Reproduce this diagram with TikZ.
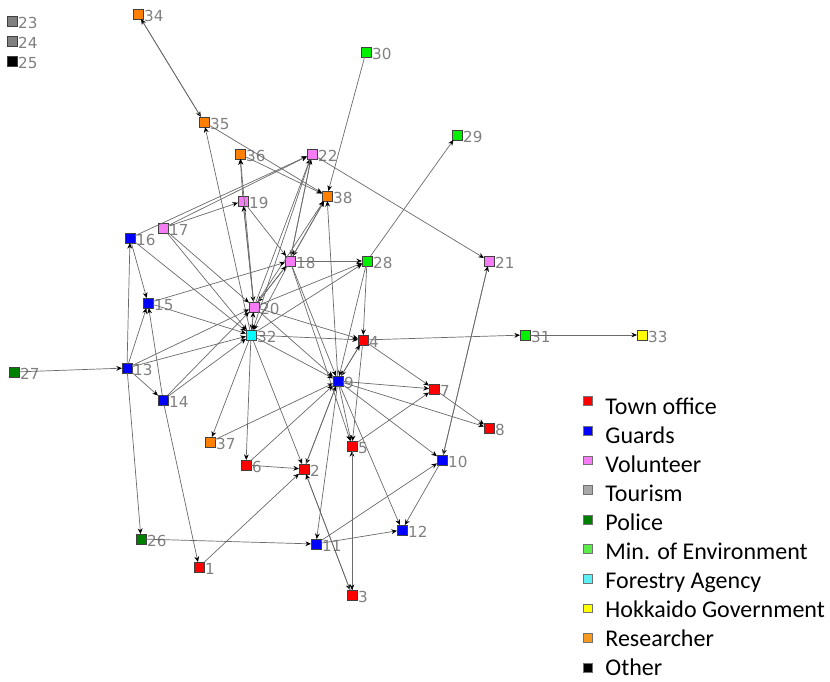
\documentclass[tikz,border=0pt]{standalone}
\usepackage{fontspec}
\setmainfont{Carlito}
\newfontfamily\tagfont{DejaVu Sans}
\usetikzlibrary{arrows.meta}

\definecolor{townred}{HTML}{FF0000}
\definecolor{guardblue}{HTML}{0000FF}
\definecolor{volpink}{HTML}{F57CF5}
\definecolor{tourgray}{HTML}{808080}
\definecolor{legtour}{HTML}{A8A8A8}
\definecolor{policegreen}{HTML}{008000}
\definecolor{envgreen}{HTML}{00F000}
\definecolor{legenv}{HTML}{5CEB4A}
\definecolor{forestcyan}{HTML}{00FFFF}
\definecolor{legforest}{HTML}{5CF0F5}
\definecolor{hokkyellow}{HTML}{FFFF00}
\definecolor{resorange}{HTML}{FF8000}
\definecolor{legres}{HTML}{F59A1E}
\definecolor{tiegray}{HTML}{6A6A6A}

\begin{document}
\begin{tikzpicture}[x=0.5pt, y=-0.5pt]
            \tikzset{
                actor/.style={draw=black!75, line width=0.3pt, minimum size=5pt, inner sep=0pt, outer sep=0pt},
                tag/.style={text=tourgray, font=\tagfont\fontsize{7.6}{8}\selectfont, inner sep=0.4pt, yshift=-1pt},
                tie/.style={draw=tiegray, line width=0.35pt, -{Stealth[length=2.8pt, width=2.4pt, color=black]}},
                town/.style={actor, fill=townred},
                guard/.style={actor, fill=guardblue},
                vol/.style={actor, fill=volpink},
                tour/.style={actor, fill=tourgray},
                police/.style={actor, fill=policegreen},
                env/.style={actor, fill=envgreen},
                forest/.style={actor, fill=forestcyan},
                hokk/.style={actor, fill=hokkyellow},
                res/.style={actor, fill=resorange},
                other/.style={actor, fill=black},
                keybox/.style={draw=black!55, line width=0.3pt, minimum size=4.4pt, inner sep=0pt},
                keytext/.style={font=\fontsize{12}{14}\selectfont, anchor=base west, inner sep=0pt}
            }
            \useasboundingbox (0,0) rectangle (830,681);

            % actors
            \node[town, label={[tag]right:1}] (n1) at (199,567) {};
            \node[town, label={[tag]right:2}] (n2) at (304,469) {};
            \node[town, label={[tag]right:3}] (n3) at (352,595) {};
            \node[town, label={[tag]right:4}] (n4) at (363,340) {};
            \node[town, label={[tag]right:5}] (n5) at (352,446) {};
            \node[town, label={[tag]right:6}] (n6) at (246,465) {};
            \node[town, label={[tag]right:7}] (n7) at (434,389) {};
            \node[town, label={[tag]right:8}] (n8) at (489,428) {};
            \node[guard, label={[tag]right:9}] (n9) at (338,381) {};
            \node[guard, label={[tag]right:10}] (n10) at (442,460) {};
            \node[guard, label={[tag]right:11}] (n11) at (316,544) {};
            \node[guard, label={[tag]right:12}] (n12) at (402,530) {};
            \node[guard, label={[tag]right:13}] (n13) at (127,368) {};
            \node[guard, label={[tag]right:14}] (n14) at (163,400) {};
            \node[guard, label={[tag]right:15}] (n15) at (148,303) {};
            \node[guard, label={[tag]right:16}] (n16) at (130,238) {};
            \node[vol, label={[tag]right:17}] (n17) at (163,228) {};
            \node[vol, label={[tag]right:18}] (n18) at (290,261) {};
            \node[vol, label={[tag]right:19}] (n19) at (243,201) {};
            \node[vol, label={[tag]right:20}] (n20) at (254,307) {};
            \node[vol, label={[tag]right:21}] (n21) at (489,261) {};
            \node[vol, label={[tag]right:22}] (n22) at (312,154) {};
            \node[tour, label={[tag]right:23}] (n23) at (12,21) {};
            \node[tour, label={[tag]right:24}] (n24) at (12,41) {};
            \node[other, label={[tag]right:25}] (n25) at (12,61) {};
            \node[police, label={[tag]right:26}] (n26) at (141,539) {};
            \node[police, label={[tag]right:27}] (n27) at (14,372) {};
            \node[env, label={[tag]right:28}] (n28) at (367,261) {};
            \node[env, label={[tag]right:29}] (n29) at (457,135) {};
            \node[env, label={[tag]right:30}] (n30) at (366,52) {};
            \node[env, label={[tag]right:31}] (n31) at (525,335) {};
            \node[forest, label={[tag]right:32}] (n32) at (251,335) {};
            \node[hokk, label={[tag]right:33}] (n33) at (642,335) {};
            \node[res, label={[tag]right:34}] (n34) at (138,14) {};
            \node[res, label={[tag]right:35}] (n35) at (204,122) {};
            \node[res, label={[tag]right:36}] (n36) at (240,154) {};
            \node[res, label={[tag]right:37}] (n37) at (210,442) {};
            \node[res, label={[tag]right:38}] (n38) at (327,196) {};

            % ties
            \foreach \a/\b in {34/35, 35/34, 32/35, 35/38, 36/38, 19/36, 20/36,
                               17/19, 17/22, 16/22, 19/20, 20/19, 19/18, 18/20, 20/18,
                               22/18, 18/22, 38/18, 18/38, 20/22, 20/38, 22/21, 30/38, 9/38,
                               18/28, 28/29, 32/28, 20/28, 15/18, 16/32, 17/20, 17/32,
                               15/32, 13/20, 13/32, 14/32, 14/20, 13/16, 16/15, 13/15,
                               14/15, 13/14, 27/13, 13/26, 26/11, 14/1, 1/2, 6/2, 32/6,
                               32/37, 37/9, 6/9, 32/2, 9/2, 2/9, 2/3, 3/2, 3/5, 5/3, 18/5,
                               9/5, 4/5, 5/7, 9/7, 4/7, 9/8, 7/8, 9/10, 10/12, 11/10,
                               11/12, 9/11, 9/12, 20/32, 32/20, 4/9, 9/4, 32/4, 20/4,
                               28/4, 28/9, 18/9, 20/9, 32/9, 18/32, 22/32, 21/10, 10/21,
                               4/31, 31/33}
                \draw[tie] (n\a) -- (n\b);

            % key
            \foreach \c/\t [count=\i from 0] in {townred/Town office, guardblue/Guards,
                    volpink/Volunteer, legtour/Tourism, policegreen/Police,
                    legenv/Min. of Environment, legforest/Forestry Agency,
                    hokkyellow/Hokkaido Government, legres/Researcher, black/Other} {
                \node[keybox, fill=\c] (key\i) at (588,{401+29.6*\i}) {};
                \node[keytext] (keytext\i) at (605,{414+29*\i}) {\t};
            }
        \end{tikzpicture}
\end{document}
